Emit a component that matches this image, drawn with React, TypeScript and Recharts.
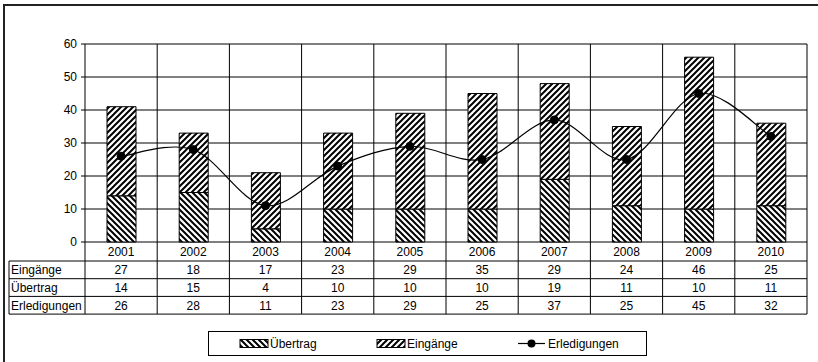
import { Bar, CartesianGrid, ComposedChart, Line, XAxis, YAxis } from "recharts";

const years = ["2001", "2002", "2003", "2004", "2005", "2006", "2007", "2008", "2009", "2010"];
const eingaenge = [27, 18, 17, 23, 29, 35, 29, 24, 46, 25];
const uebertrag = [14, 15, 4, 10, 10, 10, 19, 11, 10, 11];
const erledigungen = [26, 28, 11, 23, 29, 25, 37, 25, 45, 32];
const yTicks = [0, 10, 20, 30, 40, 50, 60];

const tableRows = [
  { label: "Eingänge", values: eingaenge },
  { label: "Übertrag", values: uebertrag },
  { label: "Erledigungen", values: erledigungen },
];

const data = years.map((year, i) => ({
  year,
  uebertrag: uebertrag[i],
  eingaenge: eingaenge[i],
  erledigungen: erledigungen[i],
}));

const FONT = '"Liberation Sans", Arial, sans-serif';
const YEAR_ROW = 19;
const ROW_H = 17.7;
const LABEL_LEFT = 9;

// Excel-style smoothed line: Catmull-Rom through every point.
const excelSmooth = (context: any) => {
  let pts: [number, number][] = [];
  return {
    areaStart() {},
    areaEnd() {},
    lineStart() {
      pts = [];
    },
    point(x: number, y: number) {
      pts.push([+x, +y]);
    },
    lineEnd() {
      if (!pts.length) return;
      context.moveTo(pts[0][0], pts[0][1]);
      for (let i = 0; i < pts.length - 1; i++) {
        const p0 = pts[i - 1] ?? pts[i];
        const p1 = pts[i];
        const p2 = pts[i + 1];
        const p3 = pts[i + 2] ?? p2;
        context.bezierCurveTo(
          p1[0] + (p2[0] - p0[0]) / 6,
          p1[1] + (p2[1] - p0[1]) / 6,
          p2[0] - (p3[0] - p1[0]) / 6,
          p2[1] - (p3[1] - p1[1]) / 6,
          p2[0],
          p2[1]
        );
      }
    },
  };
};

// One column of the data table under the plot, hung off each x tick.
function TableTick(props: any) {
  const { x, y, width, index, payload } = props;
  const band = payload?.offset ? payload.offset * 2 : width / years.length;
  const left = x - band / 2;
  const right = x + band / 2;
  const tableTop = y + YEAR_ROW;
  const bottom = tableTop + ROW_H * tableRows.length;
  const txt = { fontFamily: FONT, fontSize: 12, fill: "#000" };

  return (
    <g>
      <line x1={right} y1={y} x2={right} y2={bottom} stroke="#000" />
      {index === 0 && (
        <g>
          <line x1={left} y1={y} x2={left} y2={bottom} stroke="#000" />
          <line x1={LABEL_LEFT} y1={tableTop} x2={LABEL_LEFT} y2={bottom} stroke="#000" />
          {tableRows.map((r, ri) => (
            <g key={r.label}>
              <line
                x1={LABEL_LEFT}
                y1={tableTop + ri * ROW_H}
                x2={left}
                y2={tableTop + ri * ROW_H}
                stroke="#000"
              />
              <text x={LABEL_LEFT + 2} y={tableTop + ri * ROW_H + ROW_H / 2 + 4.3} {...txt}>
                {r.label}
              </text>
            </g>
          ))}
          <line x1={LABEL_LEFT} y1={bottom} x2={left} y2={bottom} stroke="#000" />
        </g>
      )}
      {tableRows.map((r, ri) => (
        <g key={r.label}>
          <line
            x1={left}
            y1={tableTop + ri * ROW_H}
            x2={right}
            y2={tableTop + ri * ROW_H}
            stroke="#000"
          />
          <text x={x} y={tableTop + ri * ROW_H + ROW_H / 2 + 4.3} textAnchor="middle" {...txt}>
            {r.values[index]}
          </text>
        </g>
      ))}
      <line x1={left} y1={bottom} x2={right} y2={bottom} stroke="#000" />
      <text x={x} y={y + YEAR_ROW / 2 + 4.3} textAnchor="middle" {...txt}>
        {payload.value}
      </text>
    </g>
  );
}

function Legend() {
  const txt = { fontFamily: FONT, fontSize: 12, fill: "#000" };
  return (
    <div
      style={{
        position: "absolute",
        left: 208,
        top: 331,
        width: 439,
        height: 25,
        boxSizing: "border-box",
        border: "1px solid #000",
        background: "#fff",
      }}
    >
      <svg width={437} height={23} style={{ display: "block" }}>
        <rect x={31} y={7.5} width={28} height={8} fill="url(#hatchBack)" stroke="#000" />
        <text x={61} y={16} {...txt}>Übertrag</text>
        <rect x={168} y={7.5} width={28} height={8} fill="url(#hatchFwd)" stroke="#000" />
        <text x={198} y={16} {...txt}>Eingänge</text>
        <line x1={309} y1={11.5} x2={336} y2={11.5} stroke="#000" strokeWidth={1.2} />
        <circle cx={322.5} cy={11.5} r={4} fill="#000" />
        <text x={339} y={16} {...txt}>Erledigungen</text>
      </svg>
    </div>
  );
}

export default function App() {
  return (
    <div
      style={{
        position: "absolute",
        left: 0,
        top: 0,
        width: 818,
        height: 362,
        overflow: "hidden",
        background: "#fff",
      }}
    >
      <svg width={0} height={0} style={{ position: "absolute" }}>
        <defs>
          <pattern id="hatchFwd" patternUnits="userSpaceOnUse" width={6} height={6}>
            <rect width={6} height={6} fill="#fff" />
            <path d="M-1.5,1.5 l3,-3 M0,6 l6,-6 M4.5,7.5 l3,-3" stroke="#000" strokeWidth={2} />
          </pattern>
          <pattern id="hatchBack" patternUnits="userSpaceOnUse" width={6} height={6}>
            <rect width={6} height={6} fill="#fff" />
            <path d="M-1.5,4.5 l3,3 M0,0 l6,6 M4.5,-1.5 l3,3" stroke="#000" strokeWidth={2} />
          </pattern>
        </defs>
      </svg>
      <div
        style={{
          position: "absolute",
          left: 3,
          top: 4,
          width: 900,
          height: 500,
          border: "2px solid #222",
        }}
      />
      <div style={{ position: "absolute", left: 0, top: 0 }}>
        <ComposedChart
          width={818}
          height={362}
          data={data}
          margin={{ top: 44, right: 11, left: 55, bottom: 40 }}
        >
          <CartesianGrid
            stroke="#000"
            verticalCoordinatesGenerator={({ offset }: any) =>
              years.map((_, i) => offset.left + ((i + 1) * offset.width) / years.length)
            }
          />
          <XAxis
            dataKey="year"
            axisLine={false}
            tickLine={false}
            tickSize={0}
            tickMargin={0}
            interval={0}
            height={80}
            tick={<TableTick />}
          />
          <YAxis
            domain={[0, 60]}
            ticks={yTicks}
            width={30}
            tickSize={4}
            tickMargin={4}
            axisLine={{ stroke: "#000" }}
            tickLine={{ stroke: "#000" }}
            tick={{ fill: "#000", fontSize: 12, fontFamily: FONT }}
          />
          <Bar
            dataKey="uebertrag"
            stackId="a"
            fill="url(#hatchBack)"
            stroke="#000"
            strokeWidth={1}
            barSize={29}
            isAnimationActive={false}
          />
          <Bar
            dataKey="eingaenge"
            stackId="a"
            fill="url(#hatchFwd)"
            stroke="#000"
            strokeWidth={1}
            barSize={29}
            isAnimationActive={false}
          />
          <Line
            type={excelSmooth as any}
            dataKey="erledigungen"
            stroke="#000"
            strokeWidth={1.2}
            dot={{ r: 4, fill: "#000", stroke: "#000", strokeWidth: 1 }}
            activeDot={false}
            isAnimationActive={false}
          />
        </ComposedChart>
      </div>
      <Legend />
    </div>
  );
}
